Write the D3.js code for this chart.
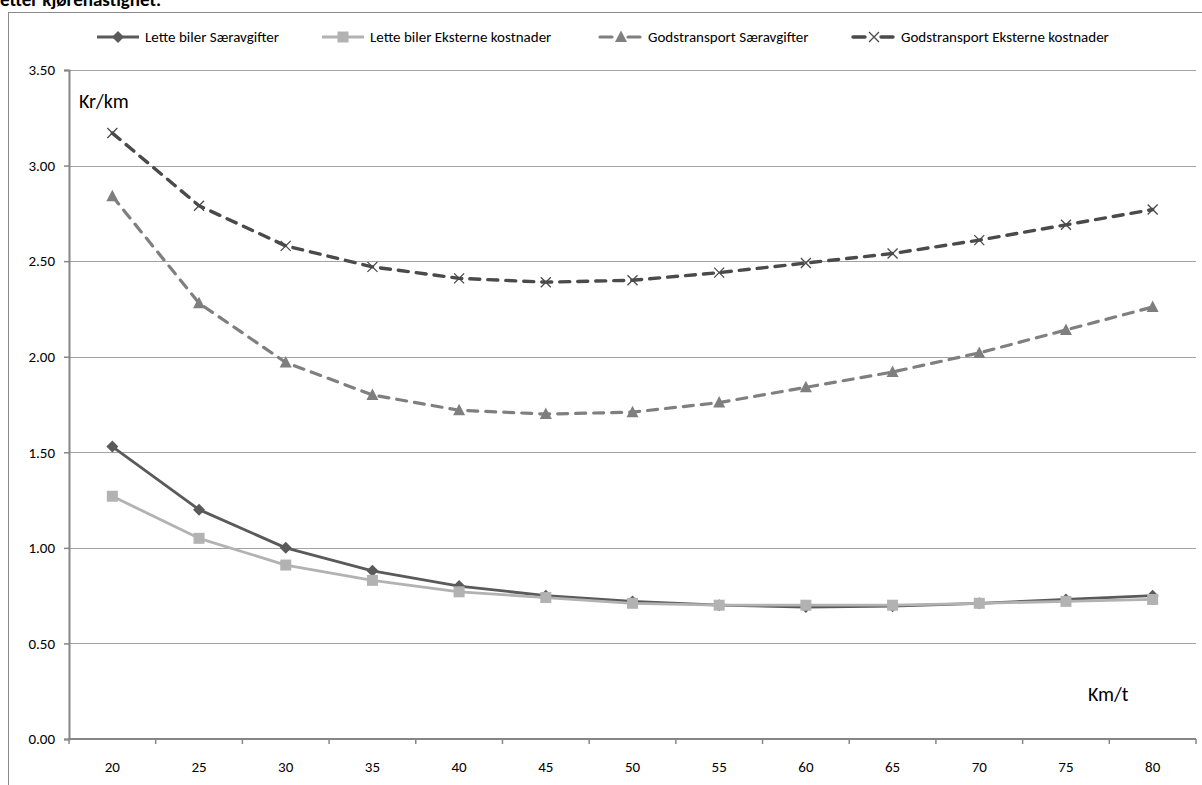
<!DOCTYPE html>
<html>
<head>
<meta charset="utf-8">
<script src="https://cdn.jsdelivr.net/npm/d3@7"></script>
<style>
  body { margin: 0; background: #fff; }
  svg { display: block; font-family: Carlito, Lato, sans-serif; }
</style>
</head>
<body>
<script>
// data

const speeds = [20, 25, 30, 35, 40, 45, 50, 55, 60, 65, 70, 75, 80];
const letteSaer = [1.53, 1.20, 1.00, 0.88, 0.80, 0.75, 0.72, 0.70, 0.69, 0.695, 0.71, 0.73, 0.75];
const letteEkst = [1.27, 1.05, 0.91, 0.83, 0.77, 0.74, 0.71, 0.70, 0.70, 0.70, 0.71, 0.72, 0.73];
const godsSaer = [2.84, 2.28, 1.97, 1.80, 1.72, 1.70, 1.71, 1.76, 1.84, 1.92, 2.02, 2.14, 2.26];
const godsEkst = [3.17, 2.79, 2.58, 2.47, 2.41, 2.39, 2.40, 2.44, 2.49, 2.54, 2.61, 2.69, 2.77];
const seriesNames = ["Lette biler Særavgifter", "Lette biler Eksterne kostnader", "Godstransport Særavgifter", "Godstransport Eksterne kostnader"];
const yTicks = [0, 0.5, 1, 1.5, 2, 2.5, 3, 3.5];

// styles per series
const series = [
  { name: seriesNames[0], values: letteSaer, color: "#5a5a5a", width: 2.8, dash: null, marker: "diamond" },
  { name: seriesNames[1], values: letteEkst, color: "#b2b2b2", width: 2.8, dash: null, marker: "square" },
  { name: seriesNames[2], values: godsSaer, color: "#7f7f7f", width: 3.2, dash: "10,8", marker: "triangle" },
  { name: seriesNames[3], values: godsEkst, color: "#4a4a4a", width: 3.4, dash: "10,8", marker: "cross" }
];

const w = 1202;
const h = 785;
const m = { top: 70, right: 6, bottom: 46, left: 69 };
const font = "Carlito, Lato, sans-serif";

const svg = d3.select("body").append("svg")
  .attr("width", w)
  .attr("height", h);

// cut-off title and chart frame
svg.append("text")
  .attr("x", 0)
  .attr("y", 6)
  .attr("font-size", 19)
  .attr("font-weight", "bold")
  .attr("fill", "#000")
  .text("etter kjørehastighet.");

svg.append("rect")
  .attr("x", 8.5)
  .attr("y", 12.5)
  .attr("width", w + 10)
  .attr("height", h + 10)
  .attr("fill", "none")
  .attr("stroke", "#8a8a8a")
  .attr("stroke-width", 1);

const x = d3.scaleBand()
  .domain(speeds)
  .range([m.left, w - m.right])
  .padding(0);

const y = d3.scaleLinear()
  .domain([0, 3.5])
  .range([h - m.bottom, m.top]);

const cx = d => x(d) + x.bandwidth() / 2;

// gridlines
svg.append("g")
  .selectAll("line")
  .data(yTicks.filter(d => d > 0))
  .enter()
  .append("line")
  .attr("x1", m.left)
  .attr("x2", w - m.right)
  .attr("y1", d => Math.round(y(d)) + 0.5)
  .attr("y2", d => Math.round(y(d)) + 0.5)
  .attr("stroke", "#a3a3a3")
  .attr("stroke-width", 1.2);

// y axis
const yAxis = d3.axisLeft(y)
  .tickValues(yTicks)
  .tickSize(5)
  .tickPadding(9)
  .tickFormat(d3.format(".2f"));

const gy = svg.append("g")
  .attr("transform", "translate(" + m.left + ",0)")
  .call(yAxis);
gy.select(".domain").attr("stroke", "#868686").attr("stroke-width", 2);
gy.selectAll(".tick line").attr("stroke", "#868686").attr("stroke-width", 1.5);
gy.selectAll("text").attr("font-size", 15).attr("fill", "#000").attr("font-family", font);

// x axis: labels centred, ticks between categories
const xAxis = d3.axisBottom(x)
  .tickSize(0)
  .tickPadding(22);

const gx = svg.append("g")
  .attr("transform", "translate(0," + (h - m.bottom) + ")")
  .call(xAxis);
gx.select(".domain").remove();
gx.selectAll("text").attr("font-size", 15).attr("fill", "#000").attr("font-family", font);

svg.append("line")
  .attr("x1", m.left - 1)
  .attr("x2", w - m.right)
  .attr("y1", y(0))
  .attr("y2", y(0))
  .attr("stroke", "#868686")
  .attr("stroke-width", 2);

svg.append("g")
  .selectAll("line")
  .data(speeds.map(d => x(d)).concat([x(speeds[speeds.length - 1]) + x.bandwidth()]))
  .enter()
  .append("line")
  .attr("x1", d => d)
  .attr("x2", d => d)
  .attr("y1", y(0))
  .attr("y2", y(0) + 5)
  .attr("stroke", "#868686")
  .attr("stroke-width", 1.5);

// markers

function drawMarker(g, type, color, px, py) {
  if (type === "diamond") {
    g.append("path")
      .attr("d", "M" + px + "," + (py - 6) + "L" + (px + 6) + "," + py + "L" + px + "," + (py + 6) + "L" + (px - 6) + "," + py + "Z")
      .attr("fill", color);
  } else if (type === "square") {
    g.append("rect")
      .attr("x", px - 5.5).attr("y", py - 5.5)
      .attr("width", 11).attr("height", 11)
      .attr("fill", color);
  } else if (type === "triangle") {
    g.append("path")
      .attr("d", "M" + px + "," + (py - 6.5) + "L" + (px + 6) + "," + (py + 5) + "L" + (px - 6) + "," + (py + 5) + "Z")
      .attr("fill", color);
  } else {
    g.append("path")
      .attr("d", "M" + (px - 5) + "," + (py - 5) + "L" + (px + 5) + "," + (py + 5) + "M" + (px - 5) + "," + (py + 5) + "L" + (px + 5) + "," + (py - 5))
      .attr("stroke", color)
      .attr("stroke-width", 1.3)
      .attr("fill", "none");
  }
}

const line = d3.line()
  .x((d, i) => cx(speeds[i]))
  .y(d => y(d));

series.forEach(s => {
  const g = svg.append("g");
  g.append("path")
    .datum(s.values)
    .attr("d", line)
    .attr("fill", "none")
    .attr("stroke", s.color)
    .attr("stroke-width", s.width)
    .attr("stroke-dasharray", s.dash)
    .attr("stroke-linejoin", "round")
    .attr("stroke-linecap", s.dash ? "round" : "butt");
  s.values.forEach((v, i) => drawMarker(g, s.marker, s.color, cx(speeds[i]), y(v)));
});

// legend

const legendX = [97, 322, 600, 853];
const legendY = 37;

series.forEach((s, i) => {
  const g = svg.append("g");
  const lx = legendX[i];
  g.append("line")
    .attr("x1", lx).attr("x2", lx + 42)
    .attr("y1", legendY).attr("y2", legendY)
    .attr("stroke", s.color)
    .attr("stroke-width", s.width)
    .attr("stroke-dasharray", s.dash ? "12,16" : null)
    .attr("stroke-linecap", s.dash ? "round" : "butt");
  drawMarker(g, s.marker, s.color, lx + 21, legendY);
  g.append("text")
    .attr("x", lx + 48)
    .attr("y", legendY + 5)
    .attr("font-size", 15)
    .attr("fill", "#000")
    .text(s.name);
});

// unit labels
svg.append("text")
  .attr("x", 79)
  .attr("y", 108)
  .attr("font-size", 20)
  .attr("fill", "#000")
  .text("Kr/km");

svg.append("text")
  .attr("x", 1088)
  .attr("y", 701)
  .attr("font-size", 20)
  .attr("fill", "#000")
  .text("Km/t");
</script>
</body>
</html>
